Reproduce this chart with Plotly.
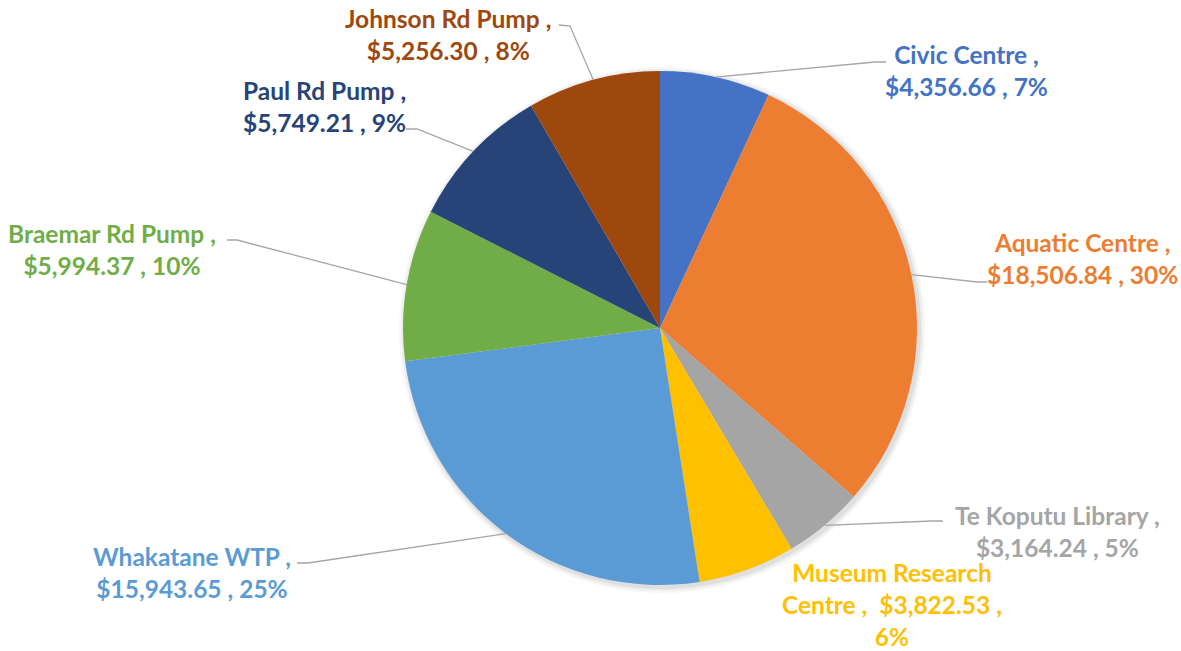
import math
import plotly.graph_objects as go

# ---- data ----
sites = ["Civic Centre", "Aquatic Centre", "Te Koputu Library", "Museum Research Centre",
         "Whakatane WTP", "Braemar Rd Pump", "Paul Rd Pump", "Johnson Rd Pump"]
costs = [4356.66, 18506.84, 3164.24, 3822.53, 15943.65, 5994.37, 5749.21, 5256.30]
percent_labels = ["7%", "30%", "5%", "6%", "25%", "10%", "9%", "8%"]
colors = ["#4472C4", "#ED7D31", "#A5A5A5", "#FFC000", "#5B9BD5", "#70AD47", "#264478", "#9E480E"]

# ---- layout constants (pixels) ----
W, H = 1181, 651
CX, CY, R = 660, 328, 257
FONT = "Lato, 'Open Sans', sans-serif"
FSIZE = 24.5

# label block centres and leader line elbow/end points (pixels)
label_pos = [(966, 70), (1082, 258), (1057, 531), (892, 604),
             (192, 572), (112, 249), (324, 106), (448, 35)]
leader_pts = [[(875, 62), (886, 62)],
              [(977, 282), (987, 282)],
              [(932, 521), (943, 521)],
              None,
              [(308, 563), (297, 563)],
              [(237, 240), (227, 240)],
              [(417, 129), (406, 129)],
              [(570, 26), (559, 25)]]


def px(x):
    return x / W


def py(y):
    return 1 - y / H


total = sum(costs)

fig = go.Figure()
fig.add_trace(go.Pie(
    labels=sites, values=costs, sort=False, direction="clockwise", rotation=0,
    marker=dict(colors=colors, line=dict(width=0)),
    textinfo="none", hoverinfo="label+value+percent", showlegend=False,
    domain=dict(x=[px(CX - R), px(CX + R)], y=[py(CY + R), py(CY - R)]),
))

shapes = []
# soft shadow behind pie
for k, a in [(6, 0.03), (4, 0.04), (2, 0.06)]:
    shapes.append(dict(type="circle", xref="paper", yref="paper", layer="below",
                       x0=px(CX - R - k + 2), x1=px(CX + R + k + 2),
                       y0=py(CY + R + k + 2), y1=py(CY - R - k + 2),
                       fillcolor=f"rgba(0,0,0,{a})", line=dict(width=0)))

annotations = []
cum = 0.0
for i, (name, v, c) in enumerate(zip(sites, costs, colors)):
    frac = v / total
    mid = (cum + frac / 2) * 2 * math.pi
    cum += frac
    pct = percent_labels[i]
    val = f"${v:,.2f}"
    if name == "Museum Research Centre":
        text = f"<b>Museum Research<br>Centre ,  {val} ,<br>{pct}</b>"
    else:
        text = f"<b>{name} ,<br>{val} , {pct}</b>"
    lx, ly = label_pos[i]
    annotations.append(dict(x=px(lx), y=py(ly), xref="paper", yref="paper",
                            text=text, showarrow=False, align="center",
                            xanchor="center", yanchor="middle",
                            font=dict(family=FONT, size=FSIZE, color=c)))
    if leader_pts[i] is not None:
        sx = CX + R * math.sin(mid)
        sy = CY - R * math.cos(mid)
        (ex, ey), (fx, fy) = leader_pts[i]
        path = f"M {px(sx)},{py(sy)} L {px(ex)},{py(ey)} L {px(fx)},{py(fy)}"
        shapes.append(dict(type="path", xref="paper", yref="paper", path=path,
                           line=dict(color="#A6A6A6", width=1.3), layer="above"))

fig.update_layout(width=W, height=H, margin=dict(l=0, r=0, t=0, b=0),
                  paper_bgcolor="white", plot_bgcolor="white",
                  shapes=shapes, annotations=annotations)

fig.write_html("out.html", include_plotlyjs=True, config={"displayModeBar": False},
               post_script="document.body.style.margin='0';document.body.style.overflow='hidden';")
